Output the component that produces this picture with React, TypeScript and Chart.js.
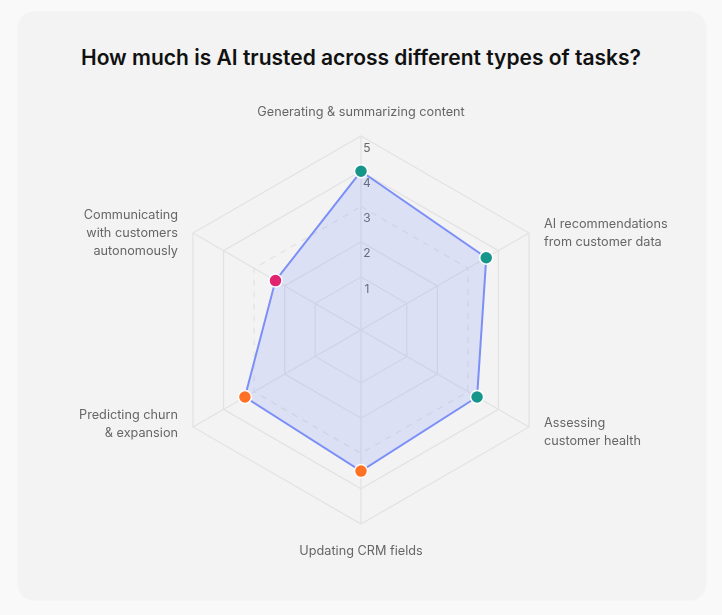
import React, { useEffect, useRef } from "react";
import { Chart, registerables } from "chart.js";

Chart.register(...registerables);

const TITLE = "How much is AI trusted across different types of tasks?";
const CATEGORIES: (string | string[])[] = [
  "Generating & summarizing content",
  ["AI recommendations", "from customer data"],
  ["Assessing", "customer health"],
  "Updating CRM fields",
  ["Predicting churn", "& expansion"],
  ["Communicating", "with customers", "autonomously"],
];
const TRUST_VALUES = [4.0, 3.6, 3.3, 3.5, 3.3, 2.3];
const POINT_COLORS = ["#16958a", "#16958a", "#16958a", "#ff7124", "#ff7124", "#e0246f"];
const TICK_VALUES = [1, 2, 3, 4, 5];
const DASHED_TICK = 3;

const FONT = "Inter, 'Noto Sans', sans-serif";

const labelPlugin = {
  id: "customLabels",
  beforeDatasetsDraw(chart: any) {
    const scale = chart.scales.r;
    const ctx = chart.ctx;
    ctx.save();
    ctx.font = `12px ${FONT}`;
    ctx.fillStyle = "#666666";
    ctx.textAlign = "center";
    ctx.textBaseline = "middle";
    TICK_VALUES.forEach((v) => {
      const d = scale.getDistanceFromCenterForValue(v);
      ctx.fillText(String(v), scale.xCenter + 6, scale.yCenter - d + 12);
    });
    ctx.restore();
  },
  afterDraw(chart: any) {
    const scale = chart.scales.r;
    const ctx = chart.ctx;
    const labels = chart.data.labels as (string | string[])[];
    const lh = 18;
    ctx.save();
    ctx.font = `12.7px ${FONT}`;
    ctx.fillStyle = "#666666";
    ctx.textBaseline = "middle";
    labels.forEach((lab, i) => {
      const lines = Array.isArray(lab) ? lab : [lab];
      const p = scale.getPointPosition(i, scale.drawingArea);
      const dx = p.x - scale.xCenter;
      const dy = p.y - scale.yCenter;
      const h = lines.length * lh;
      let x = p.x;
      let top: number;
      if (Math.abs(dx) < 1) {
        ctx.textAlign = "center";
        top = dy < 0 ? p.y - 15 - h : p.y + 18;
      } else {
        ctx.textAlign = dx > 0 ? "left" : "right";
        x = p.x + (dx > 0 ? 15 : -15);
        let nudge = 0;
        if (dy > 0) nudge = dx > 0 ? 5 : -3;
        top = p.y - h / 2 + nudge;
      }
      lines.forEach((ln, k) => {
        ctx.fillText(ln, x, top + lh * k + lh / 2);
      });
    });
    ctx.restore();
  },
};

export default function App() {
  const ref = useRef<HTMLCanvasElement | null>(null);

  useEffect(() => {
    if (!ref.current) return;
    const chart = new Chart(ref.current, {
      type: "radar",
      data: {
        labels: CATEGORIES as any,
        datasets: [
          {
            data: TRUST_VALUES,
            borderColor: "#7b8ff7",
            backgroundColor: "rgba(118,138,248,0.18)",
            borderWidth: 2,
            fill: "start",
            pointBackgroundColor: POINT_COLORS,
            pointBorderColor: "#ffffff",
            pointBorderWidth: 1.5,
            pointRadius: 6.5,
            pointHoverRadius: 6.5,
          },
        ],
      },
      options: {
        animation: false,
        responsive: false,
        maintainAspectRatio: false,
        layout: { padding: { left: 166.5, right: 166.5, top: 136, bottom: 90 } },
        plugins: { legend: { display: false }, tooltip: { enabled: false } },
        scales: {
          r: {
            min: -0.5,
            max: 5,
            afterBuildTicks: (axis: any) => {
              axis.ticks = TICK_VALUES.map((value) => ({ value }));
            },
            ticks: { display: false, stepSize: 1 },
            pointLabels: { display: false },
            grid: { color: "#e2e2e2", lineWidth: 1.2 },
            border: {
              dash: (c: any) => (c.tick && c.tick.value === DASHED_TICK ? [6, 6] : []),
            } as any,
            angleLines: { color: "#e2e2e2", lineWidth: 1.2 },
          },
        },
      } as any,
      plugins: [labelPlugin],
    });
    return () => chart.destroy();
  }, []);

  return (
    <div style={{ position: "fixed", left: 0, top: 0, width: 722, height: 615, background: "#f9f9f9" }}>
      <div
        style={{
          position: "absolute",
          left: 18,
          top: 12,
          width: 688,
          height: 588,
          borderRadius: 16,
          background: "#f3f3f3",
          boxShadow: "0 0 0 1px rgba(0,0,0,0.015)",
        }}
      />
      <div
        style={{
          position: "absolute",
          left: 0,
          width: 722,
          top: 44,
          height: 28,
          lineHeight: "28px",
          textAlign: "center",
          fontFamily: FONT,
          fontWeight: 600,
          fontSize: 21,
          color: "#111111",
        }}
      >
        {TITLE}
      </div>
      <canvas ref={ref} width={722} height={615} style={{ position: "absolute", left: 0, top: 0, width: 722, height: 615 }} />
    </div>
  );
}
